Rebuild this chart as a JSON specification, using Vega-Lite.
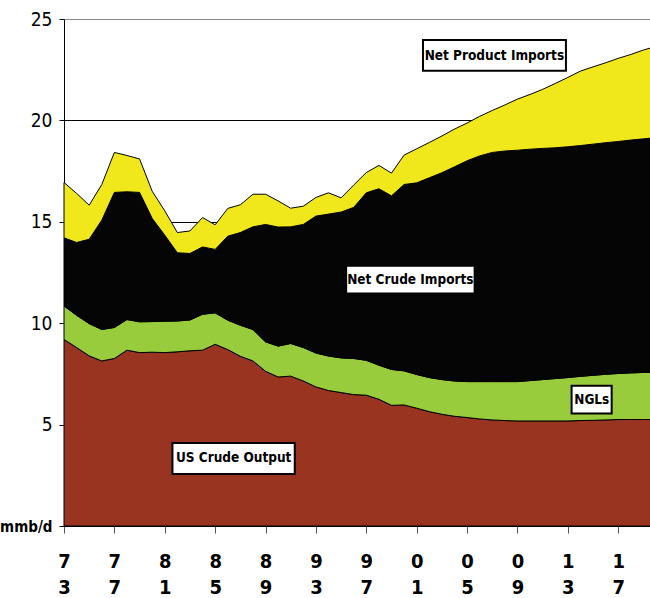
{
  "$schema": "https://vega.github.io/schema/vega-lite/v6.json",
  "autosize": {"type": "none"},
  "padding": {"left": 64, "top": 19, "right": 0, "bottom": 72},
  "width": 592,
  "height": 507,
  "config": {"view": {"stroke": null}, "font": "DejaVu Sans Condensed"},
  "layer": [
    {
      "data": {"values": [
        {"year":1973,"US Crude Output":9.2,"NGLs":1.65,"Net Crude Imports":3.36,"Net Product Imports":2.73},
        {"year":1974,"US Crude Output":8.8,"NGLs":1.59,"Net Crude Imports":3.59,"Net Product Imports":2.42},
        {"year":1975,"US Crude Output":8.39,"NGLs":1.59,"Net Crude Imports":4.16,"Net Product Imports":1.68},
        {"year":1976,"US Crude Output":8.14,"NGLs":1.55,"Net Crude Imports":5.39,"Net Product Imports":1.76},
        {"year":1977,"US Crude Output":8.26,"NGLs":1.53,"Net Crude Imports":6.66,"Net Product Imports":1.97},
        {"year":1978,"US Crude Output":8.67,"NGLs":1.51,"Net Crude Imports":6.3,"Net Product Imports":1.79},
        {"year":1979,"US Crude Output":8.55,"NGLs":1.52,"Net Crude Imports":6.38,"Net Product Imports":1.65},
        {"year":1980,"US Crude Output":8.57,"NGLs":1.51,"Net Crude Imports":5.09,"Net Product Imports":1.34},
        {"year":1981,"US Crude Output":8.55,"NGLs":1.55,"Net Crude Imports":4.24,"Net Product Imports":1.2},
        {"year":1982,"US Crude Output":8.59,"NGLs":1.52,"Net Crude Imports":3.36,"Net Product Imports":1.0},
        {"year":1983,"US Crude Output":8.64,"NGLs":1.52,"Net Crude Imports":3.28,"Net Product Imports":1.11},
        {"year":1984,"US Crude Output":8.67,"NGLs":1.77,"Net Crude Imports":3.32,"Net Product Imports":1.45},
        {"year":1985,"US Crude Output":8.96,"NGLs":1.55,"Net Crude Imports":3.13,"Net Product Imports":1.21},
        {"year":1986,"US Crude Output":8.7,"NGLs":1.45,"Net Crude Imports":4.14,"Net Product Imports":1.37},
        {"year":1987,"US Crude Output":8.37,"NGLs":1.53,"Net Crude Imports":4.57,"Net Product Imports":1.37},
        {"year":1988,"US Crude Output":8.14,"NGLs":1.55,"Net Crude Imports":5.06,"Net Product Imports":1.61},
        {"year":1989,"US Crude Output":7.63,"NGLs":1.45,"Net Crude Imports":5.79,"Net Product Imports":1.49},
        {"year":1990,"US Crude Output":7.35,"NGLs":1.52,"Net Crude Imports":5.87,"Net Product Imports":1.29},
        {"year":1991,"US Crude Output":7.39,"NGLs":1.61,"Net Crude Imports":5.75,"Net Product Imports":0.92},
        {"year":1992,"US Crude Output":7.15,"NGLs":1.65,"Net Crude Imports":6.07,"Net Product Imports":0.9},
        {"year":1993,"US Crude Output":6.86,"NGLs":1.67,"Net Crude Imports":6.75,"Net Product Imports":0.92},
        {"year":1994,"US Crude Output":6.68,"NGLs":1.7,"Net Crude Imports":7.0,"Net Product Imports":1.05},
        {"year":1995,"US Crude Output":6.58,"NGLs":1.71,"Net Crude Imports":7.19,"Net Product Imports":0.7},
        {"year":1996,"US Crude Output":6.48,"NGLs":1.78,"Net Crude Imports":7.45,"Net Product Imports":1.1},
        {"year":1997,"US Crude Output":6.45,"NGLs":1.72,"Net Crude Imports":8.26,"Net Product Imports":1.0},
        {"year":1998,"US Crude Output":6.25,"NGLs":1.68,"Net Crude Imports":8.7,"Net Product Imports":1.15},
        {"year":1999,"US Crude Output":5.95,"NGLs":1.77,"Net Crude Imports":8.56,"Net Product Imports":1.12},
        {"year":2000,"US Crude Output":5.97,"NGLs":1.68,"Net Crude Imports":9.19,"Net Product Imports":1.45},
        {"year":2001,"US Crude Output":5.81,"NGLs":1.66,"Net Crude Imports":9.45,"Net Product Imports":1.68},
        {"year":2002,"US Crude Output":5.64,"NGLs":1.68,"Net Crude Imports":9.85,"Net Product Imports":1.74},
        {"year":2003,"US Crude Output":5.51,"NGLs":1.71,"Net Crude Imports":10.2,"Net Product Imports":1.81},
        {"year":2004,"US Crude Output":5.41,"NGLs":1.74,"Net Crude Imports":10.56,"Net Product Imports":1.86},
        {"year":2005,"US Crude Output":5.35,"NGLs":1.77,"Net Crude Imports":10.89,"Net Product Imports":1.86},
        {"year":2006,"US Crude Output":5.28,"NGLs":1.84,"Net Crude Imports":11.13,"Net Product Imports":1.95},
        {"year":2007,"US Crude Output":5.23,"NGLs":1.89,"Net Crude Imports":11.3,"Net Product Imports":2.07},
        {"year":2008,"US Crude Output":5.2,"NGLs":1.92,"Net Crude Imports":11.37,"Net Product Imports":2.27},
        {"year":2009,"US Crude Output":5.18,"NGLs":1.94,"Net Crude Imports":11.41,"Net Product Imports":2.52},
        {"year":2010,"US Crude Output":5.18,"NGLs":1.99,"Net Crude Imports":11.41,"Net Product Imports":2.7},
        {"year":2011,"US Crude Output":5.18,"NGLs":2.04,"Net Crude Imports":11.4,"Net Product Imports":2.91},
        {"year":2012,"US Crude Output":5.18,"NGLs":2.09,"Net Crude Imports":11.38,"Net Product Imports":3.17},
        {"year":2013,"US Crude Output":5.18,"NGLs":2.14,"Net Crude Imports":11.38,"Net Product Imports":3.42},
        {"year":2014,"US Crude Output":5.2,"NGLs":2.18,"Net Crude Imports":11.38,"Net Product Imports":3.67},
        {"year":2015,"US Crude Output":5.21,"NGLs":2.22,"Net Crude Imports":11.4,"Net Product Imports":3.81},
        {"year":2016,"US Crude Output":5.23,"NGLs":2.25,"Net Crude Imports":11.42,"Net Product Imports":3.94},
        {"year":2017,"US Crude Output":5.25,"NGLs":2.27,"Net Crude Imports":11.44,"Net Product Imports":4.1},
        {"year":2018,"US Crude Output":5.25,"NGLs":2.3,"Net Crude Imports":11.48,"Net Product Imports":4.22},
        {"year":2019,"US Crude Output":5.25,"NGLs":2.32,"Net Crude Imports":11.52,"Net Product Imports":4.38},
        {"year":2020,"US Crude Output":5.25,"NGLs":2.33,"Net Crude Imports":11.57,"Net Product Imports":4.5}
      ]},
      "transform": [
        {"fold": ["US Crude Output", "NGLs", "Net Crude Imports", "Net Product Imports"], "as": ["series", "value"]},
        {"calculate": "indexof(['US Crude Output','NGLs','Net Crude Imports','Net Product Imports'], datum.series)", "as": "stackOrder"}
      ],
      "mark": {"type": "area", "stroke": "black", "strokeWidth": 1, "interpolate": "linear"},
      "encoding": {
        "x": {
          "field": "year", "type": "quantitative",
          "scale": {"domain": [1973, 2020], "nice": false, "zero": false},
          "axis": {
            "title": null,
            "values": [1973,1974,1975,1976,1977,1978,1979,1980,1981,1982,1983,1984,1985,1986,1987,1988,1989,1990,1991,1992,1993,1994,1995,1996,1997,1998,1999,2000,2001,2002,2003,2004,2005,2006,2007,2008,2009,2010,2011,2012,2013,2014,2015,2016,2017,2018,2019],
            "labelExpr": "(datum.value - 1973) % 4 == 0 ? [substring(toString(datum.value), 2, 3), substring(toString(datum.value), 3, 4)] : ''",
            "labelOverlap": false,
            "labelFlush": false,
            "labelBound": false,
            "labelFont": "DejaVu Sans Condensed",
            "labelFontWeight": "bold",
            "labelFontSize": 20,
            "labelColor": "black",
            "labelLineHeight": 26,
            "labelPadding": 18,
            "tickSize": 7,
            "tickColor": "#555555",
            "domainColor": "black",
            "grid": false
          }
        },
        "y": {
          "field": "value", "type": "quantitative", "stack": "zero",
          "scale": {"domain": [0, 25], "nice": false},
          "axis": {
            "title": null,
            "values": [0, 5, 10, 15, 20, 25],
            "labelExpr": "datum.value == 0 ? 'mmb/d' : datum.label",
            "labelFont": "DejaVu Sans Condensed",
            "labelFontSize": {"condition": {"test": "datum.value == 0", "value": 15}, "value": 19},
            "labelFontWeight": {"condition": {"test": "datum.value == 0", "value": "bold"}, "value": "normal"},
            "labelColor": "black",
            "labelPadding": 7,
            "tickSize": 5,
            "tickColor": "black",
            "domainColor": "black",
            "grid": true,
            "gridColor": {"condition": {"test": "datum.value == 25", "value": "#888888"}, "value": "black"},
            "gridWidth": 1
          }
        },
        "color": {
          "field": "series", "type": "nominal",
          "scale": {"domain": ["US Crude Output", "NGLs", "Net Crude Imports", "Net Product Imports"], "range": ["#993421", "#99CC3C", "#050505", "#F0E81A"]},
          "legend": null
        },
        "order": {"field": "stackOrder", "type": "quantitative"}
      }
    },
    {"data": {"values": [{}]}, "mark": {"type": "rect", "fill": "white", "stroke": "black", "strokeWidth": 2},
     "encoding": {"x": {"datum": 2001.5}, "x2": {"datum": 2012.85}, "y": {"datum": 23.96}, "y2": {"datum": 22.45}}},
    {"data": {"values": [{}]}, "mark": {"type": "text", "font": "DejaVu Sans Condensed", "fontWeight": "bold", "fontSize": 13.5, "color": "black", "baseline": "middle", "align": "center"},
     "encoding": {"x": {"datum": 2007.17}, "y": {"datum": 23.2}, "text": {"value": "Net Product Imports"}}},
    {"data": {"values": [{}]}, "mark": {"type": "rect", "fill": "white", "stroke": "black", "strokeWidth": 2},
     "encoding": {"x": {"datum": 1995.4}, "x2": {"datum": 2005.6}, "y": {"datum": 12.83}, "y2": {"datum": 11.47}}},
    {"data": {"values": [{}]}, "mark": {"type": "text", "font": "DejaVu Sans Condensed", "fontWeight": "bold", "fontSize": 13.5, "color": "black", "baseline": "middle", "align": "center"},
     "encoding": {"x": {"datum": 2000.5}, "y": {"datum": 12.15}, "text": {"value": "Net Crude Imports"}}},
    {"data": {"values": [{}]}, "mark": {"type": "rect", "fill": "white", "stroke": "black", "strokeWidth": 2},
     "encoding": {"x": {"datum": 2013.3}, "x2": {"datum": 2016.48}, "y": {"datum": 6.91}, "y2": {"datum": 5.55}}},
    {"data": {"values": [{}]}, "mark": {"type": "text", "font": "DejaVu Sans Condensed", "fontWeight": "bold", "fontSize": 13.5, "color": "black", "baseline": "middle", "align": "center"},
     "encoding": {"x": {"datum": 2014.9}, "y": {"datum": 6.23}, "text": {"value": "NGLs"}}},
    {"data": {"values": [{}]}, "mark": {"type": "rect", "fill": "white", "stroke": "black", "strokeWidth": 2},
     "encoding": {"x": {"datum": 1981.61}, "x2": {"datum": 1991.32}, "y": {"datum": 4.09}, "y2": {"datum": 2.57}}},
    {"data": {"values": [{}]}, "mark": {"type": "text", "font": "DejaVu Sans Condensed", "fontWeight": "bold", "fontSize": 13.5, "color": "black", "baseline": "middle", "align": "center"},
     "encoding": {"x": {"datum": 1986.47}, "y": {"datum": 3.33}, "text": {"value": "US Crude Output"}}}
  ]
}
